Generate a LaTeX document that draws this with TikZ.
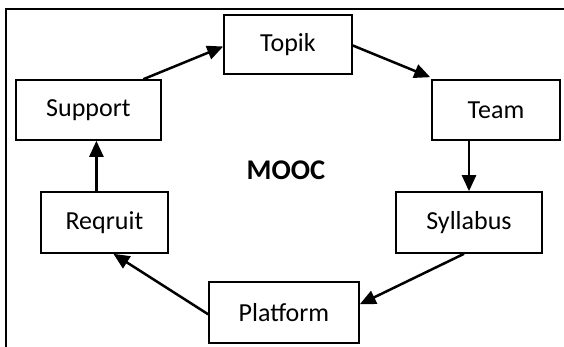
\documentclass[tikz,border=0pt]{standalone}
\usepackage{fontspec}
\setmainfont{Carlito}
\usetikzlibrary{arrows.meta,calc}
\tikzset{
  stepbox/.style={draw, line width=1.6pt, inner sep=0pt, anchor=center,
    font=\fontsize{26}{30}\selectfont},
  flow/.style={line width=2.5pt, -{Triangle[length=16pt,width=14pt]}},
  frame/.style={line width=2.3pt}
}
\begin{document}
\begin{tikzpicture}[x=1pt,y=-1pt]
\useasboundingbox (0,0) rectangle (564,347);
% frame
\coordinate (fbl) at (6,347);
\coordinate (ftl) at (6,8.7);
\coordinate (ftr) at (564,8.7);
\draw[frame] (fbl) -- (ftl) -- (ftr);
% boxes
\node[stepbox, minimum width=128pt, minimum height=59pt] (top) at (288,44.5) {Topik};
\node[stepbox, minimum width=145pt, minimum height=60pt] (sup) at (88.4,110) {Support};
\node[stepbox, minimum width=128pt, minimum height=60pt] (team) at (496,110) {Team};
\node[stepbox, minimum width=127pt, minimum height=61pt] (req) at (104.4,222.5) {Reqruit};
\node[stepbox, minimum width=146pt, minimum height=61pt] (syl) at (469,222.5) {Syllabus};
\node[stepbox, minimum width=150pt, minimum height=61pt] (plat) at (284,312.3) {Platform};
\node[font=\fontsize{28.5}{32}\selectfont\bfseries] (mooc) at (286,170) {MOOC};
% connectors
\draw[flow] ($(sup.north west)!0.875!(sup.north east)$) -- ([yshift=-2pt]top.west);
\draw[flow] ([yshift=-1pt]top.east) -- ([xshift=-1pt,yshift=2pt]team.north west);
\draw[flow] (syl.north |- team.south) -- (syl.north);
\draw[flow] ([xshift=-5pt]syl.south) -- ([yshift=8pt]plat.east);
\draw[flow] ([yshift=-2pt]plat.west) -- ([xshift=9pt]req.south);
\draw[flow] ([xshift=-8pt]req.north) -- ([xshift=-8pt]req.north |- sup.south);
\end{tikzpicture}
\end{document}
